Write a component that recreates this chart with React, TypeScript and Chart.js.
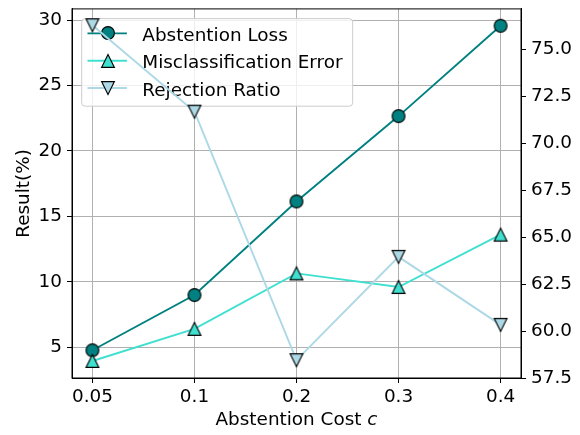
import React, { useEffect, useRef } from 'react';
import { Chart, registerables } from 'chart.js';

Chart.register(...registerables);

// ---- data ----
const categories = ['0.05', '0.1', '0.2', '0.3', '0.4'];
const abstentionLoss = [4.77, 8.99, 16.14, 22.66, 29.56];
const misclassificationError = [3.95, 6.4, 10.64, 9.6, 13.6];
const rejectionRatio = [76.3, 71.7, 58.47, 63.97, 60.35];
const leftTicks = [5, 10, 15, 20, 25, 30];
const rightTicks = [57.5, 60, 62.5, 65, 67.5, 70, 72.5, 75];
const seriesNames = ['Abstention Loss', 'Misclassification Error', 'Rejection Ratio'];
const xTitle = 'Abstention Cost ';
const xTitleItalic = 'c';
const yTitle = 'Result(%)';

// ---- style ----
const FONT = '"DejaVu Sans", sans-serif';
const FS = 18.4;
const C_LOSS = '#008080';
const C_ERR = '#40e0d0';
const C_REJ = '#add8e6';
const GRID = '#b0b0b0';
const MS = 12.8;

type Kind = 'circle' | 'up' | 'down';

function makeMarker(kind: Kind, fill: string): HTMLCanvasElement {
  const size = 18;
  const c = document.createElement('canvas');
  c.width = size;
  c.height = size;
  const ctx = c.getContext('2d')!;
  const h = MS / 2;
  const cx = size / 2;
  const cy = size / 2;
  ctx.beginPath();
  if (kind === 'circle') ctx.arc(cx, cy, h, 0, Math.PI * 2);
  else if (kind === 'up') {
    ctx.moveTo(cx, cy - h);
    ctx.lineTo(cx + h, cy + h);
    ctx.lineTo(cx - h, cy + h);
    ctx.closePath();
  } else {
    ctx.moveTo(cx, cy + h);
    ctx.lineTo(cx + h, cy - h);
    ctx.lineTo(cx - h, cy - h);
    ctx.closePath();
  }
  ctx.fillStyle = fill;
  ctx.fill();
  ctx.lineWidth = 1.1;
  ctx.strokeStyle = '#000';
  ctx.stroke();
  return c;
}

export default function App() {
  const ref = useRef<HTMLCanvasElement | null>(null);

  useEffect(() => {
    document.body.style.margin = '0';
    const canvas = ref.current;
    if (!canvas) return;

    const markers = [
      makeMarker('circle', C_LOSS),
      makeMarker('up', C_ERR),
      makeMarker('down', C_REJ),
    ];
    const colors = [C_LOSS, C_ERR, C_REJ];

    const legendPlugin = {
      id: 'mplLegend',
      beforeDatasetDraw(chart: any, args: any) {
        if (args.index !== 2) return;
        const ctx = chart.ctx as CanvasRenderingContext2D;
        const a = chart.chartArea;
        const x0 = a.left + 9.7;
        const y0 = a.top + 9.7;
        const w = 271;
        const h = 87.6;
        const r = 3.5;
        ctx.save();
        ctx.beginPath();
        ctx.moveTo(x0 + r, y0);
        ctx.lineTo(x0 + w - r, y0);
        ctx.arcTo(x0 + w, y0, x0 + w, y0 + r, r);
        ctx.lineTo(x0 + w, y0 + h - r);
        ctx.arcTo(x0 + w, y0 + h, x0 + w - r, y0 + h, r);
        ctx.lineTo(x0 + r, y0 + h);
        ctx.arcTo(x0, y0 + h, x0, y0 + h - r, r);
        ctx.lineTo(x0, y0 + r);
        ctx.arcTo(x0, y0, x0 + r, y0, r);
        ctx.closePath();
        ctx.fillStyle = 'rgba(255,255,255,0.8)';
        ctx.fill();
        ctx.lineWidth = 1;
        ctx.strokeStyle = '#cccccc';
        ctx.stroke();
        ctx.font = `${FS}px ${FONT}`;
        ctx.fillStyle = '#000';
        ctx.textBaseline = 'alphabetic';
        ctx.textAlign = 'left';
        for (let i = 0; i < seriesNames.length; i++) {
          const cy = y0 + 14.8 + i * 27.3;
          ctx.beginPath();
          ctx.moveTo(x0 + 5.8, cy);
          ctx.lineTo(x0 + 45.2, cy);
          ctx.strokeStyle = colors[i];
          ctx.lineWidth = 1.9;
          ctx.stroke();
          const m = markers[i];
          ctx.drawImage(m, Math.round(x0 + 25.8 - m.width / 2), Math.round(cy - m.height / 2));
          ctx.fillText(seriesNames[i], x0 + 60.6, cy + 7.7);
        }
        ctx.restore();
      },
    };

    const framePlugin = {
      id: 'mplFrame',
      afterDraw(chart: any) {
        const ctx = chart.ctx as CanvasRenderingContext2D;
        const a = chart.chartArea;
        ctx.save();
        ctx.strokeStyle = '#000';
        ctx.lineWidth = 1;
        ctx.strokeRect(a.left, a.top, a.right - a.left, a.bottom - a.top);
        // x title with italic c
        ctx.fillStyle = '#000';
        ctx.textBaseline = 'alphabetic';
        ctx.textAlign = 'left';
        ctx.font = `${FS}px ${FONT}`;
        const w1 = ctx.measureText(xTitle).width;
        ctx.font = `italic ${FS}px ${FONT}`;
        const w2 = ctx.measureText(xTitleItalic).width;
        const cx = (a.left + a.right) / 2;
        const sx = cx - (w1 + w2) / 2;
        ctx.font = `${FS}px ${FONT}`;
        ctx.fillText(xTitle, sx, 425.3);
        ctx.font = `italic ${FS}px ${FONT}`;
        ctx.fillText(xTitleItalic, sx + w1, 425.3);
        // y title
        ctx.font = `${FS}px ${FONT}`;
        ctx.translate(29, (a.top + a.bottom) / 2);
        ctx.rotate(-Math.PI / 2);
        ctx.textAlign = 'center';
        ctx.fillText(yTitle, 0, 0);
        ctx.restore();
      },
    };

    const tickFont = { family: FONT, size: FS };
    const noVPad = (s: any) => {
      s.paddingTop = 0;
      s.paddingBottom = 0;
    };

    const chart = new Chart(canvas, {
      type: 'line',
      data: {
        datasets: [
          {
            label: seriesNames[0],
            data: abstentionLoss.map((v, i) => ({ x: i, y: v })),
            yAxisID: 'y',
            borderColor: C_LOSS,
            backgroundColor: C_LOSS,
            borderWidth: 1.9,
            pointStyle: markers[0] as any,
            pointRadius: 7,
            order: 3,
          },
          {
            label: seriesNames[1],
            data: misclassificationError.map((v, i) => ({ x: i, y: v })),
            yAxisID: 'y',
            borderColor: C_ERR,
            backgroundColor: C_ERR,
            borderWidth: 1.9,
            pointStyle: markers[1] as any,
            pointRadius: 7,
            order: 2,
          },
          {
            label: seriesNames[2],
            data: rejectionRatio.map((v, i) => ({ x: i, y: v })),
            yAxisID: 'y1',
            borderColor: C_REJ,
            backgroundColor: C_REJ,
            borderWidth: 1.9,
            pointStyle: markers[2] as any,
            pointRadius: 7,
            order: 1,
          },
        ],
      },
      options: {
        responsive: false,
        animation: false,
        devicePixelRatio: 1,
        layout: { padding: { top: 7, left: 0, right: 0, bottom: 0 } },
        plugins: {
          legend: { display: false },
          tooltip: { enabled: false },
        },
        scales: {
          x: {
            type: 'linear',
            min: -0.2,
            max: 4.2,
            afterBuildTicks: (s: any) => {
              s.ticks = categories.map((_, i) => ({ value: i }));
            },
            afterFit: (s: any) => {
              s.height = 57;
              s.paddingLeft = 0;
              s.paddingRight = 0;
            },
            ticks: {
              callback: (v: any) => categories[v as number] ?? '',
              color: '#000',
              font: tickFont,
              padding: 3,
              maxRotation: 0,
              autoSkip: false,
            },
            grid: { color: GRID, lineWidth: 1, tickColor: '#000', tickLength: 5 },
            border: { display: true, color: '#000', width: 1 },
          },
          y: {
            type: 'linear',
            position: 'left',
            min: 2.65,
            max: 30.85,
            afterBuildTicks: (s: any) => {
              s.ticks = leftTicks.map((v) => ({ value: v }));
            },
            afterFit: (s: any) => {
              s.width = 72;
              noVPad(s);
            },
            ticks: {
              callback: (v: any) => String(v),
              color: '#000',
              font: tickFont,
              padding: 5,
            },
            grid: { color: GRID, lineWidth: 1, tickColor: '#000', tickLength: 5 },
            border: { display: true, color: '#000', width: 1 },
          },
          y1: {
            type: 'linear',
            position: 'right',
            min: 57.52,
            max: 77.17,
            afterBuildTicks: (s: any) => {
              s.ticks = rightTicks.map((v) => ({ value: v }));
            },
            afterFit: (s: any) => {
              s.width = 59;
              noVPad(s);
            },
            ticks: {
              callback: (v: any) => Number(v).toFixed(1),
              color: '#000',
              font: tickFont,
              padding: 5,
            },
            grid: { drawOnChartArea: false, tickColor: '#000', tickLength: 5 },
            border: { display: true, color: '#000', width: 1 },
          },
        },
      },
      plugins: [legendPlugin, framePlugin],
    });

    return () => chart.destroy();
  }, []);

  return <canvas ref={ref} width={580} height={435} style={{ display: 'block' }} />;
}
